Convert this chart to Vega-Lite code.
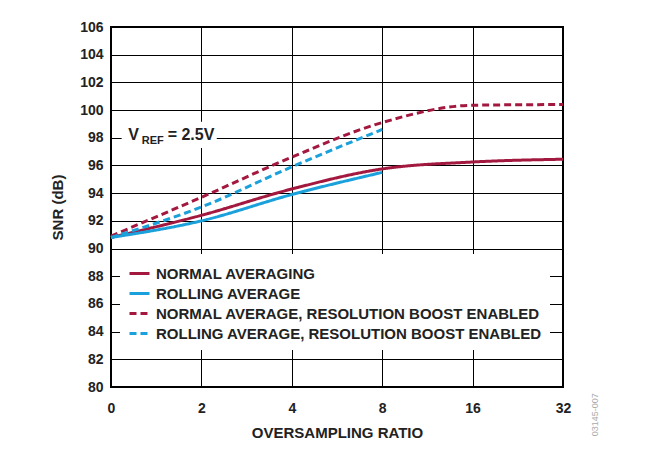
{
  "$schema": "https://vega.github.io/schema/vega-lite/v6.json",
  "autosize": {"type": "none"},
  "width": 452,
  "height": 360,
  "padding": {"left": 111, "top": 27, "right": 94, "bottom": 63},
  "background": "white",
  "config": {
    "font": "Liberation Sans",
    "view": {"stroke": "black", "strokeWidth": 2},
    "axis": {
      "grid": true,
      "gridColor": "black",
      "gridOpacity": 1,
      "gridWidth": 1,
      "ticks": false,
      "domain": false,
      "labelOverlap": false,
      "labelFont": "Liberation Sans",
      "labelFontWeight": "bold",
      "labelFontSize": 14,
      "labelColor": "#222",
      "titleFont": "Liberation Sans",
      "titleFontWeight": "bold",
      "titleFontSize": 15,
      "titleColor": "#222"
    }
  },
  "datasets": {
    "curves": [
      {"series": "NORMAL AVERAGING", "ratio": "0", "snr": 90.8},
      {"series": "NORMAL AVERAGING", "ratio": "2", "snr": 92.4},
      {"series": "NORMAL AVERAGING", "ratio": "4", "snr": 94.3},
      {"series": "NORMAL AVERAGING", "ratio": "8", "snr": 95.75},
      {"series": "NORMAL AVERAGING", "ratio": "16", "snr": 96.25},
      {"series": "NORMAL AVERAGING", "ratio": "32", "snr": 96.45},
      {"series": "ROLLING AVERAGE", "ratio": "0", "snr": 90.8},
      {"series": "ROLLING AVERAGE", "ratio": "2", "snr": 92.0},
      {"series": "ROLLING AVERAGE", "ratio": "4", "snr": 93.9},
      {"series": "ROLLING AVERAGE", "ratio": "8", "snr": 95.5},
      {"series": "NORMAL AVERAGE, RESOLUTION BOOST ENABLED", "ratio": "0", "snr": 90.9},
      {"series": "NORMAL AVERAGE, RESOLUTION BOOST ENABLED", "ratio": "2", "snr": 93.7},
      {"series": "NORMAL AVERAGE, RESOLUTION BOOST ENABLED", "ratio": "4", "snr": 96.6},
      {"series": "NORMAL AVERAGE, RESOLUTION BOOST ENABLED", "ratio": "8", "snr": 99.1},
      {"series": "NORMAL AVERAGE, RESOLUTION BOOST ENABLED", "ratio": "16", "snr": 100.35},
      {"series": "NORMAL AVERAGE, RESOLUTION BOOST ENABLED", "ratio": "32", "snr": 100.4},
      {"series": "ROLLING AVERAGE, RESOLUTION BOOST ENABLED", "ratio": "0", "snr": 90.8},
      {"series": "ROLLING AVERAGE, RESOLUTION BOOST ENABLED", "ratio": "2", "snr": 93.0},
      {"series": "ROLLING AVERAGE, RESOLUTION BOOST ENABLED", "ratio": "4", "snr": 95.9},
      {"series": "ROLLING AVERAGE, RESOLUTION BOOST ENABLED", "ratio": "8", "snr": 98.6}
    ]
  },
  "resolve": {"scale": {"x": "independent"}, "axis": {"x": "independent"}},
  "layer": [
    {
      "data": {"name": "curves"},
      "mark": {"type": "line", "strokeWidth": 3, "interpolate": "monotone"},
      "encoding": {
        "x": {
          "field": "ratio",
          "type": "ordinal",
          "sort": ["0", "2", "4", "8", "16", "32"],
          "scale": {"type": "point", "padding": 0, "domain": ["0", "2", "4", "8", "16", "32"]},
          "axis": {"title": "OVERSAMPLING RATIO", "labelAngle": 0, "labelPadding": 14, "titlePadding": 10}
        },
        "y": {
          "field": "snr",
          "type": "quantitative",
          "scale": {"domain": [80, 106], "nice": false, "zero": false},
          "axis": {"title": "SNR (dB)", "values": [80, 82, 84, 86, 88, 90, 92, 94, 96, 98, 100, 102, 104, 106], "labelPadding": 8, "titlePadding": 14}
        },
        "color": {
          "field": "series",
          "type": "nominal",
          "scale": {
            "domain": ["NORMAL AVERAGING", "ROLLING AVERAGE", "NORMAL AVERAGE, RESOLUTION BOOST ENABLED", "ROLLING AVERAGE, RESOLUTION BOOST ENABLED"],
            "range": ["#A3183F", "#1AA0DA", "#A3183F", "#1AA0DA"]
          },
          "legend": {
            "title": null,
            "orient": "none",
            "legendX": 9,
            "legendY": 227,
            "fillColor": "white",
            "padding": 8,
            "symbolType": "stroke",
            "symbolStrokeWidth": 3,
            "symbolSize": 400,
            "labelFont": "Liberation Sans",
            "labelFontWeight": "bold",
            "labelFontSize": 15,
            "labelColor": "#222",
            "labelLimit": 600,
            "labelOffset": 5,
            "rowPadding": -1.3
          }
        },
        "strokeDash": {
          "field": "series",
          "type": "nominal",
          "scale": {
            "domain": ["NORMAL AVERAGING", "ROLLING AVERAGE", "NORMAL AVERAGE, RESOLUTION BOOST ENABLED", "ROLLING AVERAGE, RESOLUTION BOOST ENABLED"],
            "range": [[1, 0], [1, 0], [7, 4], [7, 4]]
          },
          "legend": null
        }
      }
    },
    {
      "data": {"values": [{"x1": 0.118, "x2": 1.17, "y1": 97.26, "y2": 99.15}]},
      "mark": {"type": "rect", "fill": "white"},
      "encoding": {
        "x": {"field": "x1", "type": "quantitative", "scale": {"domain": [0, 5]}, "axis": null},
        "x2": {"field": "x2"},
        "y": {"field": "y1", "type": "quantitative", "scale": {"domain": [80, 106], "nice": false, "zero": false},
          "axis": {"title": "SNR (dB)", "values": [80, 82, 84, 86, 88, 90, 92, 94, 96, 98, 100, 102, 104, 106], "labelPadding": 8, "titlePadding": 14}},
        "y2": {"field": "y2"}
      }
    },
    {
      "data": {"values": [{"t": "V", "x": 0.19, "y": 98.2}]},
      "mark": {"type": "text", "align": "left", "baseline": "middle", "fontWeight": "bold", "fontSize": 16, "color": "#222"},
      "encoding": {
        "x": {"field": "x", "type": "quantitative", "scale": {"domain": [0, 5]}, "axis": null},
        "y": {"field": "y", "type": "quantitative", "scale": {"domain": [80, 106], "nice": false, "zero": false},
          "axis": {"title": "SNR (dB)", "values": [80, 82, 84, 86, 88, 90, 92, 94, 96, 98, 100, 102, 104, 106], "labelPadding": 8, "titlePadding": 14}},
        "text": {"field": "t"}
      }
    },
    {
      "data": {"values": [{"t": "REF", "x": 0.34, "y": 97.75}]},
      "mark": {"type": "text", "align": "left", "baseline": "middle", "fontWeight": "bold", "fontSize": 11, "color": "#222"},
      "encoding": {
        "x": {"field": "x", "type": "quantitative", "scale": {"domain": [0, 5]}, "axis": null},
        "y": {"field": "y", "type": "quantitative", "scale": {"domain": [80, 106], "nice": false, "zero": false},
          "axis": {"title": "SNR (dB)", "values": [80, 82, 84, 86, 88, 90, 92, 94, 96, 98, 100, 102, 104, 106], "labelPadding": 8, "titlePadding": 14}},
        "text": {"field": "t"}
      }
    },
    {
      "data": {"values": [{"t": "= 2.5V", "x": 0.627, "y": 98.2}]},
      "mark": {"type": "text", "align": "left", "baseline": "middle", "fontWeight": "bold", "fontSize": 16, "color": "#222"},
      "encoding": {
        "x": {"field": "x", "type": "quantitative", "scale": {"domain": [0, 5]}, "axis": null},
        "y": {"field": "y", "type": "quantitative", "scale": {"domain": [80, 106], "nice": false, "zero": false},
          "axis": {"title": "SNR (dB)", "values": [80, 82, 84, 86, 88, 90, 92, 94, 96, 98, 100, 102, 104, 106], "labelPadding": 8, "titlePadding": 14}},
        "text": {"field": "t"}
      }
    },
    {
      "data": {"values": [{"t": "03145-007", "x": 5.35, "y": 78}]},
      "mark": {"type": "text", "angle": 270, "fontSize": 9, "color": "#aaa", "align": "center", "baseline": "middle"},
      "encoding": {
        "x": {"field": "x", "type": "quantitative", "scale": {"domain": [0, 5]}, "axis": null},
        "y": {"field": "y", "type": "quantitative", "scale": {"domain": [80, 106], "nice": false, "zero": false},
          "axis": {"title": "SNR (dB)", "values": [80, 82, 84, 86, 88, 90, 92, 94, 96, 98, 100, 102, 104, 106], "labelPadding": 8, "titlePadding": 14}},
        "text": {"field": "t"}
      }
    }
  ]
}
